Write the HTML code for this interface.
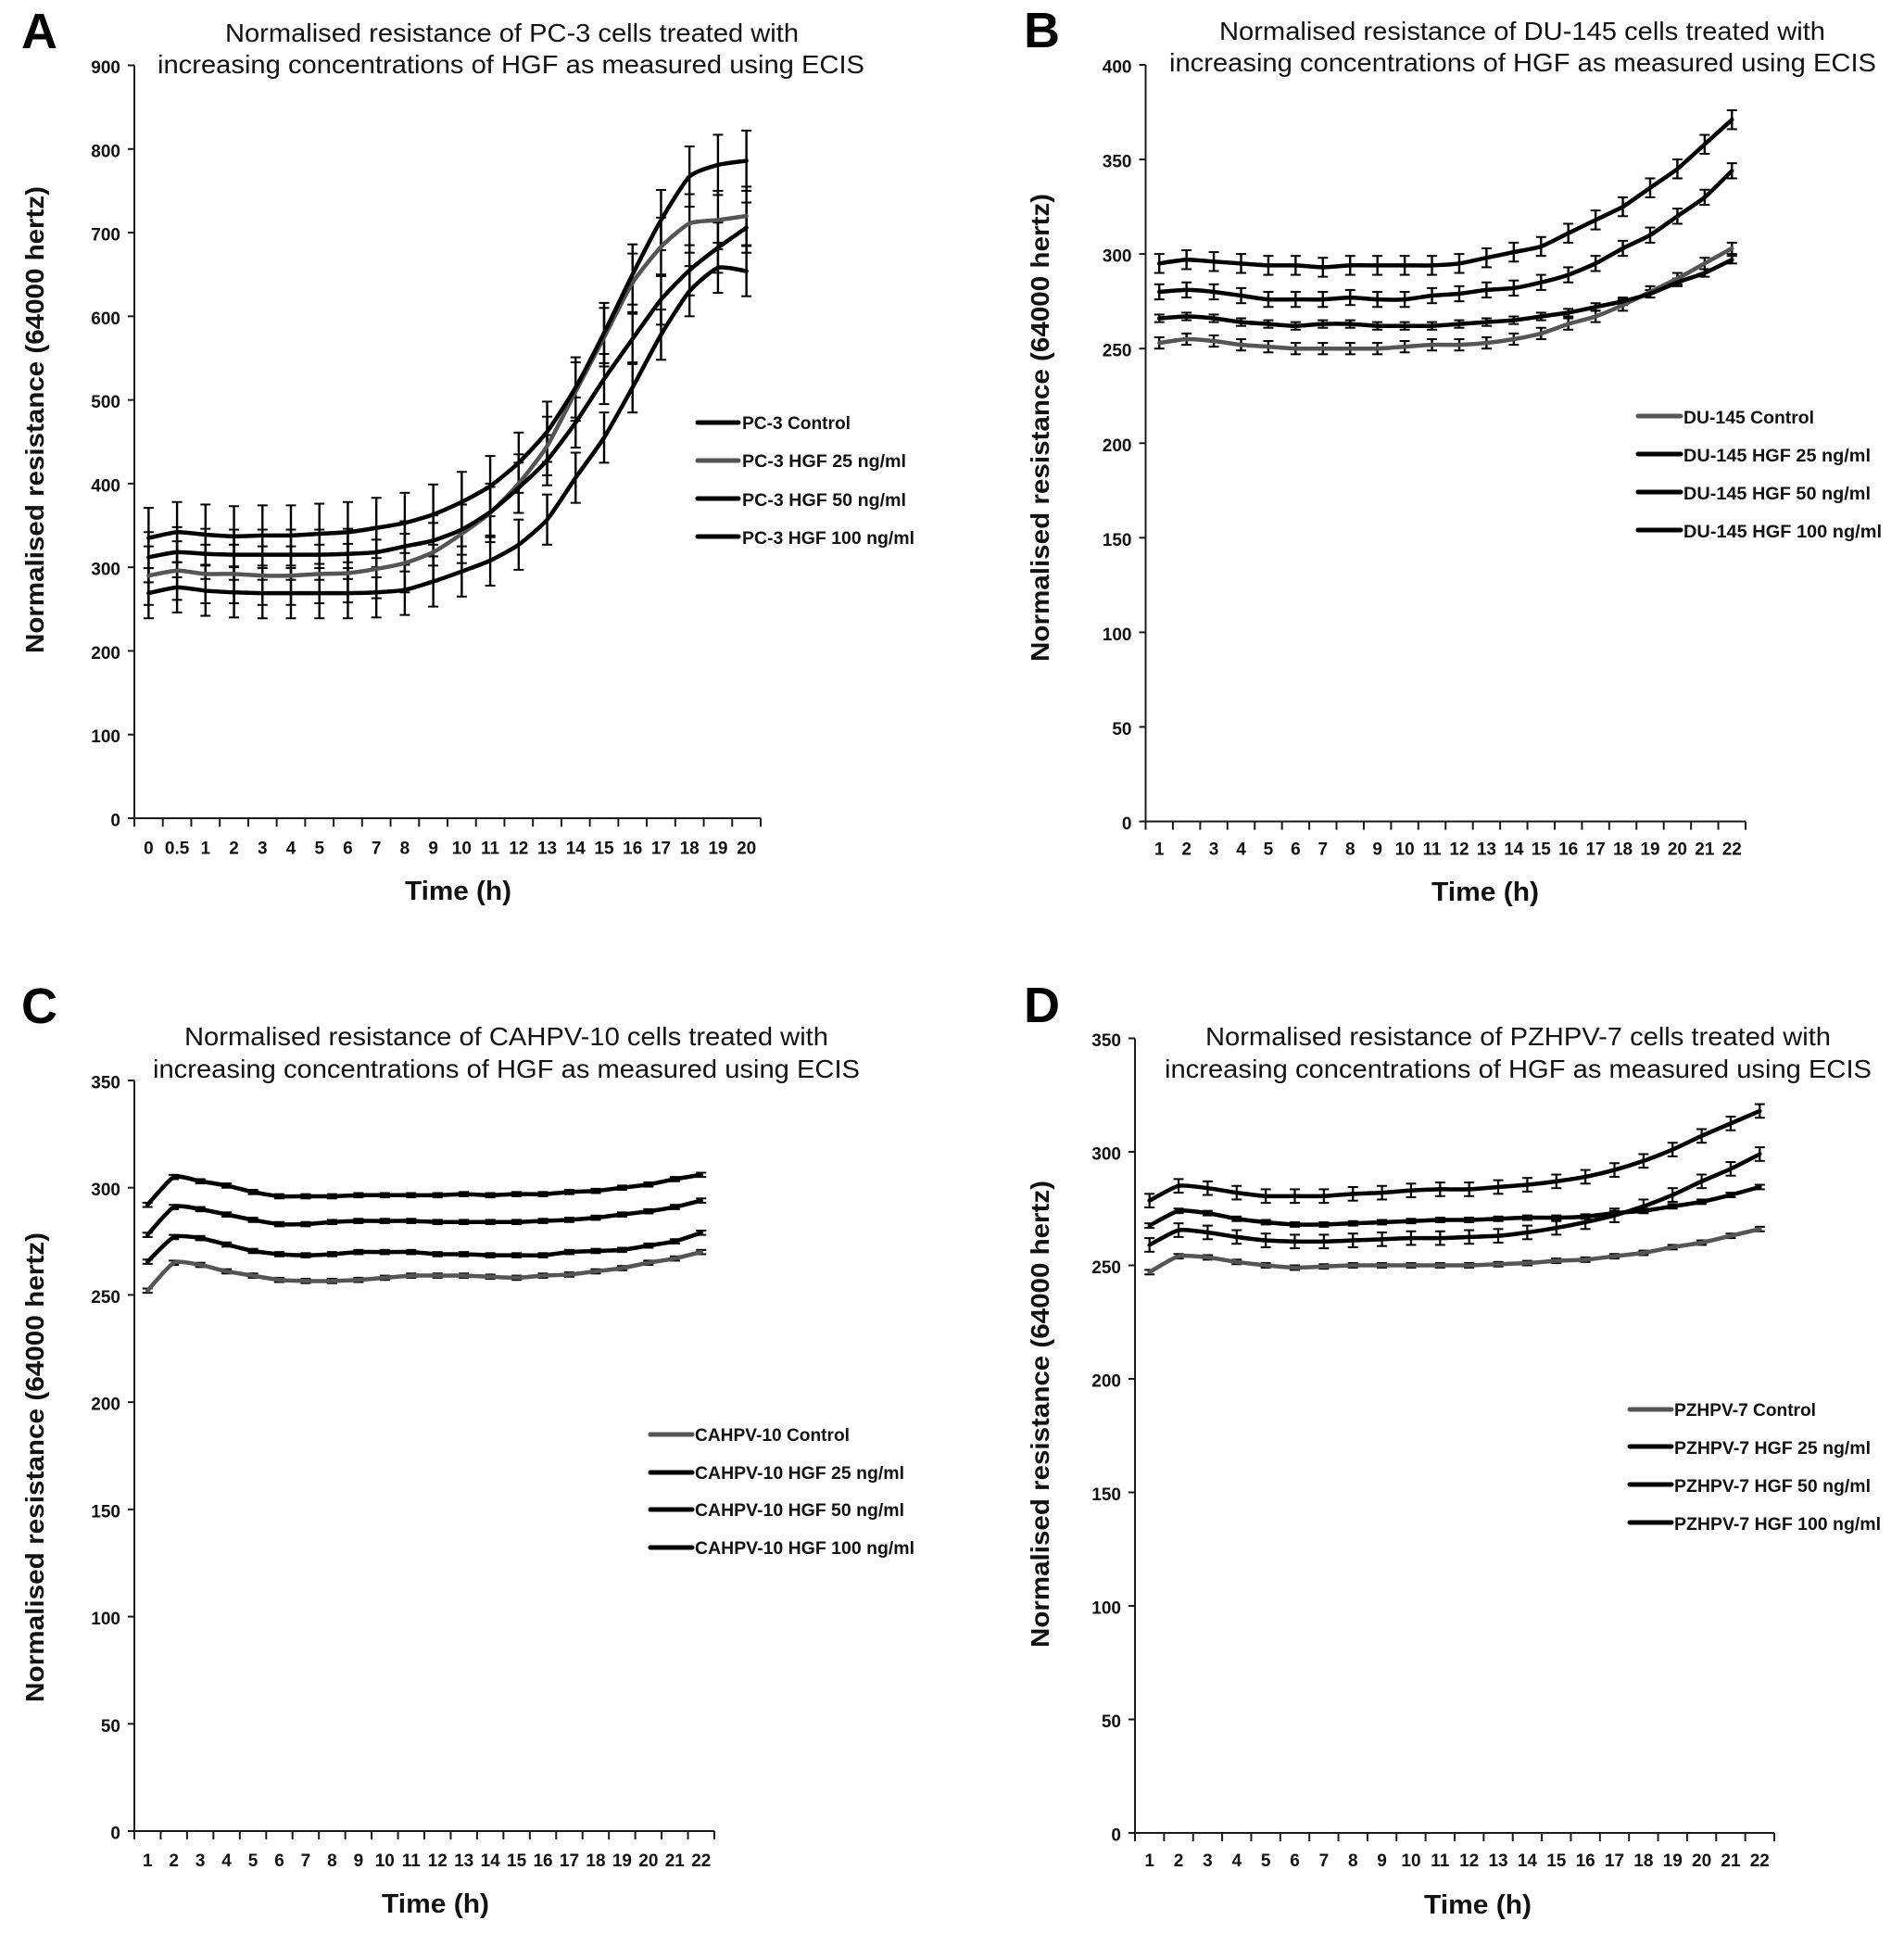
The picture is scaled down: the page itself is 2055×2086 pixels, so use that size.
<!DOCTYPE html>
<html lang="en">
<head>
<meta charset="utf-8">
<title>Normalised resistance of prostate cell lines treated with HGF</title>
<style>
html,body{margin:0;padding:0;background:#fff;}
svg{display:block;}
.t{font-family:"Liberation Sans",Arial,sans-serif;fill:#111;font-size:27.5px;}
.p{font-family:"Liberation Sans",Arial,sans-serif;font-weight:700;font-size:54px;fill:#000;}
.b{font-family:"Liberation Sans",Arial,sans-serif;font-weight:700;fill:#111;}
.yt{font-size:28px;}
.xt{font-size:29px;}
.l{font-size:19px;}
.tick{font-family:"Liberation Sans",Arial,sans-serif;font-weight:700;fill:#111;font-size:19px;}
</style>
</head>
<body>
<svg id="fig" xmlns="http://www.w3.org/2000/svg" width="2055" height="2086" viewBox="0 0 2055 2086">
<rect width="2055" height="2086" fill="#fff"/>

<g id="panel-a">
<text class="p" x="23" y="52">A</text>
<text class="t" x="243" y="45" textLength="619" lengthAdjust="spacingAndGlyphs">Normalised resistance of PC-3 cells treated with</text>
<text class="t" x="170" y="79" textLength="763" lengthAdjust="spacingAndGlyphs">increasing concentrations of HGF as measured using ECIS</text>
<text class="b yt" transform="translate(47,705) rotate(-90)" textLength="504" lengthAdjust="spacingAndGlyphs">Normalised resistance (64000 hertz)</text>
<text class="b xt" x="437" y="971" textLength="115" lengthAdjust="spacingAndGlyphs">Time (h)</text>
<g>
<line x1="753" x2="797" y1="456" y2="456" stroke="#000" stroke-width="5" stroke-linecap="round"/>
<text class="b l" x="801" y="463" textLength="117" lengthAdjust="spacingAndGlyphs">PC-3 Control</text>
<line x1="753" x2="797" y1="497" y2="497" stroke="#555" stroke-width="5" stroke-linecap="round"/>
<text class="b l" x="801" y="504" textLength="177" lengthAdjust="spacingAndGlyphs">PC-3 HGF 25 ng/ml</text>
<line x1="753" x2="797" y1="538" y2="538" stroke="#000" stroke-width="5" stroke-linecap="round"/>
<text class="b l" x="801" y="546" textLength="177" lengthAdjust="spacingAndGlyphs">PC-3 HGF 50 ng/ml</text>
<line x1="753" x2="797" y1="579" y2="579" stroke="#000" stroke-width="5" stroke-linecap="round"/>
<text class="b l" x="801" y="587" textLength="186" lengthAdjust="spacingAndGlyphs">PC-3 HGF 100 ng/ml</text>
</g>
</g>

<g id="panel-b">
<text class="p" x="1105" y="51">B</text>
<text class="t" x="1316" y="43" textLength="654" lengthAdjust="spacingAndGlyphs">Normalised resistance of DU-145 cells treated with</text>
<text class="t" x="1262" y="77" textLength="763" lengthAdjust="spacingAndGlyphs">increasing concentrations of HGF as measured using ECIS</text>
<text class="b yt" transform="translate(1132,714) rotate(-90)" textLength="505" lengthAdjust="spacingAndGlyphs">Normalised resistance (64000 hertz)</text>
<text class="b xt" x="1545" y="972" textLength="116" lengthAdjust="spacingAndGlyphs">Time (h)</text>
<g>
<line x1="1768" x2="1814" y1="449" y2="449" stroke="#555" stroke-width="5" stroke-linecap="round"/>
<text class="b l" x="1817" y="457" textLength="141" lengthAdjust="spacingAndGlyphs">DU-145 Control</text>
<line x1="1768" x2="1814" y1="490" y2="490" stroke="#000" stroke-width="5" stroke-linecap="round"/>
<text class="b l" x="1817" y="498" textLength="202" lengthAdjust="spacingAndGlyphs">DU-145 HGF 25 ng/ml</text>
<line x1="1768" x2="1814" y1="531" y2="531" stroke="#000" stroke-width="5" stroke-linecap="round"/>
<text class="b l" x="1817" y="539" textLength="202" lengthAdjust="spacingAndGlyphs">DU-145 HGF 50 ng/ml</text>
<line x1="1768" x2="1814" y1="572" y2="572" stroke="#000" stroke-width="5" stroke-linecap="round"/>
<text class="b l" x="1817" y="580" textLength="214" lengthAdjust="spacingAndGlyphs">DU-145 HGF 100 ng/ml</text>
</g>
</g>

<g id="panel-c">
<text class="p" x="23" y="1104">C</text>
<text class="t" x="199" y="1128" textLength="695" lengthAdjust="spacingAndGlyphs">Normalised resistance of CAHPV-10 cells treated with</text>
<text class="t" x="165" y="1163" textLength="763" lengthAdjust="spacingAndGlyphs">increasing concentrations of HGF as measured using ECIS</text>
<text class="b yt" transform="translate(47,1837) rotate(-90)" textLength="507" lengthAdjust="spacingAndGlyphs">Normalised resistance (64000 hertz)</text>
<text class="b xt" x="412" y="2064" textLength="116" lengthAdjust="spacingAndGlyphs">Time (h)</text>
<g>
<line x1="702" x2="747" y1="1548" y2="1548" stroke="#555" stroke-width="5" stroke-linecap="round"/>
<text class="b l" x="750" y="1555" textLength="167" lengthAdjust="spacingAndGlyphs">CAHPV-10 Control</text>
<line x1="702" x2="747" y1="1589" y2="1589" stroke="#000" stroke-width="5" stroke-linecap="round"/>
<text class="b l" x="750" y="1596" textLength="226" lengthAdjust="spacingAndGlyphs">CAHPV-10 HGF 25 ng/ml</text>
<line x1="702" x2="747" y1="1629" y2="1629" stroke="#000" stroke-width="5" stroke-linecap="round"/>
<text class="b l" x="750" y="1636" textLength="226" lengthAdjust="spacingAndGlyphs">CAHPV-10 HGF 50 ng/ml</text>
<line x1="702" x2="747" y1="1670" y2="1670" stroke="#000" stroke-width="5" stroke-linecap="round"/>
<text class="b l" x="750" y="1677" textLength="237" lengthAdjust="spacingAndGlyphs">CAHPV-10 HGF 100 ng/ml</text>
</g>
</g>

<g id="panel-d">
<text class="p" x="1105" y="1103">D</text>
<text class="t" x="1301" y="1128" textLength="675" lengthAdjust="spacingAndGlyphs">Normalised resistance of PZHPV-7 cells treated with</text>
<text class="t" x="1257" y="1163" textLength="763" lengthAdjust="spacingAndGlyphs">increasing concentrations of HGF as measured using ECIS</text>
<text class="b yt" transform="translate(1132,1778) rotate(-90)" textLength="504" lengthAdjust="spacingAndGlyphs">Normalised resistance (64000 hertz)</text>
<text class="b xt" x="1537" y="2065" textLength="116" lengthAdjust="spacingAndGlyphs">Time (h)</text>
<g>
<line x1="1759" x2="1804" y1="1521" y2="1521" stroke="#555" stroke-width="5" stroke-linecap="round"/>
<text class="b l" x="1807" y="1528" textLength="153" lengthAdjust="spacingAndGlyphs">PZHPV-7 Control</text>
<line x1="1759" x2="1804" y1="1561" y2="1561" stroke="#000" stroke-width="5" stroke-linecap="round"/>
<text class="b l" x="1807" y="1569" textLength="212" lengthAdjust="spacingAndGlyphs">PZHPV-7 HGF 25 ng/ml</text>
<line x1="1759" x2="1804" y1="1602" y2="1602" stroke="#000" stroke-width="5" stroke-linecap="round"/>
<text class="b l" x="1807" y="1610" textLength="212" lengthAdjust="spacingAndGlyphs">PZHPV-7 HGF 50 ng/ml</text>
<line x1="1759" x2="1804" y1="1643" y2="1643" stroke="#000" stroke-width="5" stroke-linecap="round"/>
<text class="b l" x="1807" y="1651" textLength="223" lengthAdjust="spacingAndGlyphs">PZHPV-7 HGF 100 ng/ml</text>
</g>
</g>
</svg>

<script>
// Panel A data
const categoriesA = ['0','0.5','1','2','3','4','5','6','7','8','9','10','11','12','13','14','15','16','17','18','19','20'];
const yTicksA = [0,100,200,300,400,500,600,700,800,900];
const pc3Control = [269,276,272,270,269,269,269,269,270,273,283,295,308,327,357,407,455,515,578,630,658,654];
const pc3Hgf25 = [290,296,292,292,290,290,292,293,298,305,318,340,365,400,445,510,575,640,683,711,715,720];
const pc3Hgf50 = [312,318,316,315,315,315,315,316,318,325,332,345,366,395,428,473,525,573,620,655,682,706];
const pc3Hgf100 = [335,342,339,337,338,338,340,342,347,353,363,378,397,425,462,515,580,650,715,767,781,786];
const pc3Errors = [30,35,30,36];

// Panel B data
const categoriesB = ['1','2','3','4','5','6','7','8','9','10','11','12','13','14','15','16','17','18','19','20','21','22'];
const yTicksB = [0,50,100,150,200,250,300,350,400];
const duControl = [253,255,254,252,251,250,250,250,250,251,252,252,253,255,258,263,267,273,280,287,295,303];
const duHgf25 = [266,267,266,264,263,262,263,263,262,262,262,263,264,265,267,269,272,275,279,285,290,297];
const duHgf50 = [280,281,280,278,276,276,276,277,276,276,278,279,281,282,285,289,295,303,310,320,330,344];
const duHgf100 = [295,297,296,295,294,294,293,294,294,294,294,295,298,301,304,311,318,325,335,345,358,371];
const duErrors = [3,2,4,5];

// Panel C data
const categoriesC = ['1','2','3','4','5','6','7','8','9','10','11','12','13','14','15','16','17','18','19','20','21','22'];
const yTicksC = [0,50,100,150,200,250,300,350];
const caControl = [252,265,264,261,259,257,256.5,256.5,257,258,259,259,259,258.5,258,259,259.5,261,262.5,265,267,270];
const caHgf25 = [265.5,277,276.5,273.5,270.5,269,268.5,269,270,270,270,269,269,268.5,268.5,268.5,270,270.5,271,273,275,279];
const caHgf50 = [278,291,290,287.5,285,283,283,284,284.5,284.5,284.5,284,284,284,284,284.5,285,286,287.5,289,291,294];
const caHgf100 = [292,305,303,301,298,296,296,296,296.5,296.5,296.5,296.5,297,296.5,297,297,298,298.5,300,301.5,304,306];
const caErrors = [1,1,1,1];

// Panel D data
const categoriesD = ['1','2','3','4','5','6','7','8','9','10','11','12','13','14','15','16','17','18','19','20','21','22'];
const yTicksD = [0,50,100,150,200,250,300,350];
const pzControl = [247,254,253.5,251.5,250,249,249.5,250,250,250,250,250,250.5,251,252,252.5,254,255.5,258,260,263,266];
const pzHgf25 = [267.5,274,273,270.5,269,268,268,268.5,269,269.5,270,270,270.5,271,271,271.5,273,274,276,278,281,284.5];
const pzHgf50 = [259,265.5,264.5,262.5,261,260.5,260.5,261,261.5,262,262,262.5,263,264.5,266.5,269,272,276,281,287,292.5,299];
const pzHgf100 = [278.5,285,284,282,280.5,280.5,280.5,281.5,282,283,283.5,283.5,284.5,285.5,287,289,292,296,301,307,312.5,318];
const pzErrors = [1,1,3,3];

const NS = 'http://www.w3.org/2000/svg';

function mk(parent, tag, attrs, text) {
  const el = document.createElementNS(NS, tag);
  for (const k in attrs) el.setAttribute(k, attrs[k]);
  if (text !== undefined) el.textContent = text;
  parent.appendChild(el);
  return el;
}

function smoothPath(pts) {
  const k = 10;
  let d = 'M' + pts[0][0].toFixed(2) + ' ' + pts[0][1].toFixed(2);
  for (let i = 0; i < pts.length - 1; i++) {
    const p0 = pts[Math.max(i - 1, 0)];
    const p1 = pts[i];
    const p2 = pts[i + 1];
    const p3 = pts[Math.min(i + 2, pts.length - 1)];
    const c1x = p1[0] + (p2[0] - p0[0]) / k;
    const c1y = p1[1] + (p2[1] - p0[1]) / k;
    const c2x = p2[0] - (p3[0] - p1[0]) / k;
    const c2y = p2[1] - (p3[1] - p1[1]) / k;
    d += 'C' + c1x.toFixed(2) + ' ' + c1y.toFixed(2) + ' ' + c2x.toFixed(2) + ' ' + c2y.toFixed(2) + ' ' + p2[0].toFixed(2) + ' ' + p2[1].toFixed(2);
  }
  return d;
}

function drawPanel(panelId, categories, yTicks, seriesList, errors, seriesNames, box) {
  const root = document.getElementById(panelId);
  const yMax = yTicks[yTicks.length - 1];
  const step = (box.x1 - box.x0) / categories.length;
  const xBand = function (i) { return box.x0 + step * (i + 0.5); };
  const yScale = function (v) { return box.y0 - (v / yMax) * (box.y0 - box.yTop); };

  const axisY = mk(root, 'line', {x1: box.x0, x2: box.x0, y1: yScale(yMax), y2: box.y0 + 9, stroke: '#1a1a1a', 'stroke-width': 2});
  
  
  const axisX = mk(root, 'line', {x1: box.x0 - 7, x2: box.x1, y1: box.y0, y2: box.y0, stroke: '#1a1a1a', 'stroke-width': 2});
  
  

  yTicks.forEach(function (t) {
    const y = yScale(t);
    const mark = mk(root, 'line', {x1: box.x0 - 7, x2: box.x0, y1: y, y2: y, stroke: '#1a1a1a', 'stroke-width': 2});
    
    
    const label = mk(root, 'text', {class: 'tick', x: box.x0 - 15, y: y + 8.5, 'text-anchor': 'end'}, String(t));
    
    
  });

  categories.forEach(function (c, i) {
    const tx = box.x0 + step * (i + 1);
    const mark = mk(root, 'line', {x1: tx, x2: tx, y1: box.y0, y2: box.y0 + 9, stroke: '#1a1a1a', 'stroke-width': 2});
    
    
    const label = mk(root, 'text', {class: 'tick', x: xBand(i), y: box.y0 + box.labelGap, 'text-anchor': 'middle'}, c);
    
    
  });

  seriesList.forEach(function (values, s) {
    const err = errors[s];
    const group = mk(root, 'g', {});
    
    
    values.forEach(function (v, i) {
      const x = xBand(i);
      const bar = mk(group, 'line', {x1: x, x2: x, y1: yScale(v + err), y2: yScale(v - err), stroke: '#000', 'stroke-width': box.barWidth});
      
      
      const capTop = mk(group, 'line', {x1: x - 5.5, x2: x + 5.5, y1: yScale(v + err), y2: yScale(v + err), stroke: '#000', 'stroke-width': 2});
      
      
      const capBottom = mk(group, 'line', {x1: x - 5.5, x2: x + 5.5, y1: yScale(v - err), y2: yScale(v - err), stroke: '#000', 'stroke-width': 2});
      
      
    });
  });

  seriesList.forEach(function (values, s) {
    const pts = values.map(function (v, i) { return [xBand(i), yScale(v)]; });
    const path = mk(root, 'path', {d: smoothPath(pts), fill: 'none', stroke: box.colors[s], 'stroke-width': 4.5, 'stroke-linecap': 'round', 'stroke-linejoin': 'round'});
    
    
  });
}

drawPanel('panel-a', categoriesA, yTicksA, [pc3Control, pc3Hgf25, pc3Hgf50, pc3Hgf100], pc3Errors,
  ['pc3-control', 'pc3-hgf-25', 'pc3-hgf-50', 'pc3-hgf-100'],
  {x0: 145, x1: 821, y0: 883, yTop: 70.5, labelGap: 38.5, barWidth: 2.4, colors: ['#000', '#555', '#000', '#000']});
drawPanel('panel-b', categoriesB, yTicksB, [duControl, duHgf25, duHgf50, duHgf100], duErrors,
  ['du145-control', 'du145-hgf-25', 'du145-hgf-50', 'du145-hgf-100'],
  {x0: 1236.5, x1: 1884, y0: 886.5, yTop: 70, labelGap: 36, barWidth: 2.4, colors: ['#555', '#000', '#000', '#000']});
drawPanel('panel-c', categoriesC, yTicksC, [caControl, caHgf25, caHgf50, caHgf100], caErrors,
  ['cahpv10-control', 'cahpv10-hgf-25', 'cahpv10-hgf-50', 'cahpv10-hgf-100'],
  {x0: 145, x1: 771, y0: 1976, yTop: 1166, labelGap: 38, barWidth: 2, colors: ['#555', '#000', '#000', '#000']});
drawPanel('panel-d', categoriesD, yTicksD, [pzControl, pzHgf25, pzHgf50, pzHgf100], pzErrors,
  ['pzhpv7-control', 'pzhpv7-hgf-25', 'pzhpv7-hgf-50', 'pzhpv7-hgf-100'],
  {x0: 1225, x1: 1915, y0: 1978, yTop: 1120.5, labelGap: 36, barWidth: 2.2, colors: ['#555', '#000', '#000', '#000']});
</script>
</body>
</html>
